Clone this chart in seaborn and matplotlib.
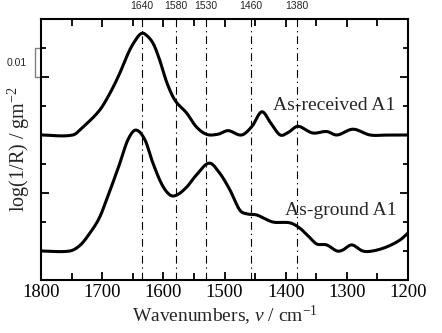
import numpy as np
import pandas as pd
import matplotlib
matplotlib.use("Agg")
import matplotlib.pyplot as plt
import seaborn as sns
from matplotlib.ticker import MultipleLocator, FixedLocator, NullFormatter

# --- data (y in units of 0.01 log(1/R), offset baselines) ---
received_x = [1800, 1748, 1731, 1704, 1687, 1671, 1655, 1642, 1636, 1630, 1617, 1606,
              1594, 1581, 1562, 1546, 1529, 1510, 1494, 1472, 1455, 1439, 1424, 1409,
              1395, 1380, 1356, 1333, 1316, 1290, 1262, 1230, 1200]
received_y = [5.0, 5.0, 5.28, 5.86, 6.45, 7.14, 7.93, 8.38, 8.5, 8.48, 8.17, 7.59,
              6.79, 6.2, 5.76, 5.28, 5.02, 5.03, 5.15, 5.0, 5.3, 5.8, 5.4, 5.0,
              5.1, 5.3, 5.07, 5.12, 5.0, 5.2, 5.0, 5.0, 5.0]

ground_x = [1800, 1753, 1736, 1720, 1704, 1687, 1671, 1658, 1645, 1630, 1617, 1602,
            1589, 1578, 1562, 1546, 1525, 1508, 1491, 1475, 1463, 1447, 1421, 1393,
            1377, 1360, 1349, 1333, 1316, 1307, 1292, 1274, 1258, 1235, 1213, 1200]
ground_y = [1.0, 1.0, 1.2, 1.62, 2.17, 3.1, 4.03, 4.83, 5.17, 4.83, 4.03, 3.28,
            2.93, 2.93, 3.2, 3.62, 4.03, 3.69, 3.1, 2.41, 2.28, 2.24, 2.0, 1.97,
            1.79, 1.45, 1.24, 1.21, 1.0, 1.03, 1.21, 1.0, 1.0, 1.14, 1.38, 1.62]

band_pos = [1635, 1580, 1530, 1457, 1382]
band_labels = ["1640", "1580", "1530", "1460", "1380"]
series_names = ["As-received A1", "As-ground A1"]

df = pd.concat([
    pd.DataFrame({"wn": received_x, "y": received_y, "sample": series_names[0]}),
    pd.DataFrame({"wn": ground_x, "y": ground_y, "sample": series_names[1]}),
])

sns.set_style("ticks")
serif = ["Liberation Serif", "DejaVu Serif"]
plt.rcParams["font.family"] = serif
plt.rcParams["mathtext.fontset"] = "custom"
plt.rcParams["mathtext.rm"] = "Liberation Serif"
plt.rcParams["mathtext.it"] = "Liberation Serif:italic"

fig = plt.figure(figsize=(4.42, 3.33), dpi=100)
ax = fig.add_axes([41 / 442, 53 / 333, 367 / 442, 261 / 333])


def hermite(xv, yv, xq):
    out = np.empty_like(xq)
    n = len(xv)
    for k, q in enumerate(xq):
        i = np.searchsorted(xv, q) - 1
        i = min(max(i, 0), n - 2)
        x0, x1 = xv[i], xv[i + 1]
        t = (q - x0) / (x1 - x0)
        p0 = yv[max(i - 1, 0)]; p1 = yv[i]; p2 = yv[i + 1]; p3 = yv[min(i + 2, n - 1)]
        xm = xv[max(i - 1, 0)]; xp = xv[min(i + 2, n - 1)]
        m1 = (p2 - p0) / (x1 - xm) * (x1 - x0) if i > 0 else (p2 - p1)
        m2 = (p3 - p1) / (xp - x0) * (x1 - x0) if i + 2 < n else (p2 - p1)
        t2, t3 = t * t, t * t * t
        out[k] = ((2 * t3 - 3 * t2 + 1) * p1 + (t3 - 2 * t2 + t) * m1
                  + (-2 * t3 + 3 * t2) * p2 + (t3 - t2) * m2)
    return out


for name in series_names:
    sub = df[df["sample"] == name].sort_values("wn")
    xv = sub["wn"].values.astype(float)
    yv = sub["y"].values.astype(float)
    xs = np.linspace(xv.min(), xv.max(), 600)
    smooth = pd.DataFrame({"wn": xs, "y": hermite(xv, yv, xs)})
    sns.lineplot(data=smooth, x="wn", y="y", ax=ax, color="black", lw=2.2,
                 estimator=None, sort=False)

for p, lab in zip(band_pos, band_labels):
    ax.axvline(p, color="black", lw=0.8, linestyle=(0, (7, 3.5, 1.2, 3.5)), zorder=0)
    ax.text(p, 1.03, lab, transform=ax.get_xaxis_transform(),
            ha="center", va="bottom", fontsize=7.5, family=["Liberation Sans", "DejaVu Sans"])

ax.set_xlim(1800, 1200)
ax.set_ylim(0, 9)
ax.xaxis.set_major_locator(MultipleLocator(100))
ax.xaxis.set_minor_locator(MultipleLocator(50))
ax.yaxis.set_major_locator(FixedLocator([3, 7]))
ax.yaxis.set_minor_locator(MultipleLocator(1))
ax.yaxis.set_major_formatter(NullFormatter())
ax.tick_params(axis="both", which="both", direction="in", top=True, right=True,
               width=1.3, colors="black")
ax.tick_params(axis="y", which="major", length=6)
ax.tick_params(axis="y", which="minor", length=3.6)
ax.tick_params(axis="x", which="major", length=5.5, labelsize=13.5, pad=3)
ax.tick_params(axis="x", which="minor", length=5)
for s in ax.spines.values():
    s.set_linewidth(1.5)
    s.set_color("black")

ax.set_xlabel(r"Wavenumbers, $\mathit{\nu}$ / cm$^{-1}$", fontsize=14, labelpad=2)
ax.set_ylabel(r"log(1/R) / gm$^{-2}$", fontsize=14.5, labelpad=3)

ax.text(1421, 6.03, series_names[0], fontsize=14, va="center", ha="left")
ax.text(1401, 2.41, series_names[1], fontsize=14, va="center", ha="left")

# 0.01 scale bracket
bx = 1809.8
ax.plot([1800, bx, bx, 1800], [8, 8, 7, 7], color="#808080", lw=1.0, clip_on=False)
ax.text(1823, 7.5, "0.01", fontsize=7.5, ha="right", va="center",
        family=["Liberation Sans", "DejaVu Sans"])

fig.savefig("out.png", dpi=100)
